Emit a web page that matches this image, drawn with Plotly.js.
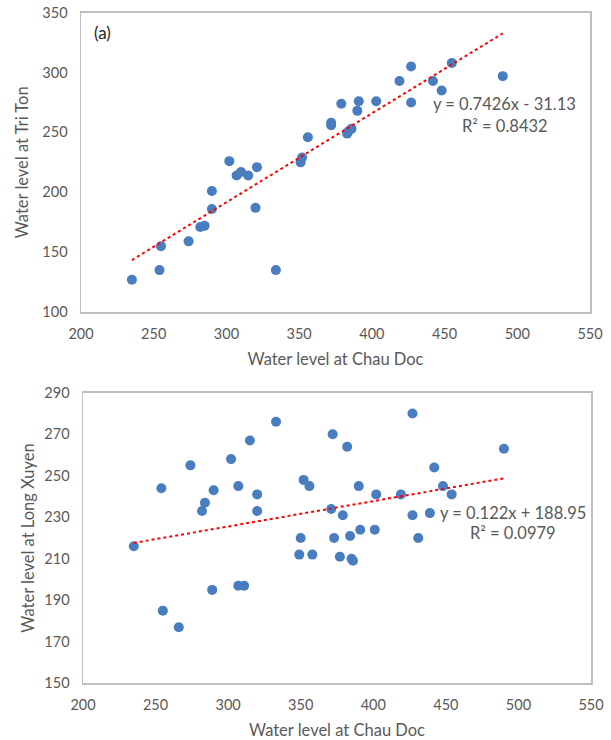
<!DOCTYPE html>
<html>
<head>
<meta charset="utf-8">
<script src="https://cdn.plot.ly/plotly-3.0.1.min.js"></script>
<style>html,body{margin:0;padding:0;background:#fff;}#chart{width:611px;height:740px;}</style>
</head>
<body>
<div id="chart"></div>
<script>
// Panel (a): Chau Doc vs Tri Ton
const topX = [235,254,255,274,282,285,290,290,302,307,310,315,321,320,334,351,352,356,372,372,379,383,386,384,391,390,403,419,427,427,442,448,455,490];
const topY = [127,135,155,159,171,172,186,201,226,214,217,214,221,187,135,225,229,246,258,256,274,249,253,251,276,268,276,293,305,275,293,285,308,297];
// Panel (b): Chau Doc vs Long Xuyen
const botX = [235,254,255,266,274,284,282,290,289,302,307,307,311,315,320,320,333,350,349,358,352,356,372,371,373,379,377,382,384,385,386,390,391,402,401,419,427,427,431,439,442,448,454,490];
const botY = [216,244,185,177,255,237,233,243,195,258,245,197,197,267,241,233,276,220,212,212,248,245,270,234,220,231,211,264,221,210,209,245,224,241,224,241,280,231,220,232,254,245,241,263];

// Trendline coefficients as printed on the chart
const topSlope = 0.7426, topIntercept = -31.13, topR2 = 0.8432;
const botSlope = 0.122, botIntercept = 188.95, botR2 = 0.0979;

const xTicks = [200,250,300,350,400,450,500,550];
const topYTicks = [100,150,200,250,300,350];
const botYTicks = [150,170,190,210,230,250,270,290];

function trend(xs, a, b) {
  const x0 = Math.min(...xs), x1 = Math.max(...xs);
  return {x: [x0, x1], y: [a * x0 + b, a * x1 + b]};
}
const tTop = trend(topX, topSlope, topIntercept);
const tBot = trend(botX, botSlope, botIntercept);

const dotColor = '#4a7dbf';
const font = 'Lato, "Open Sans", sans-serif';
const grey = '#595959';

const data = [
  {x: topX, y: topY, xaxis: 'x', yaxis: 'y', type: 'scatter', mode: 'markers',
   marker: {color: dotColor, size: 10}},
  {x: tTop.x, y: tTop.y, xaxis: 'x', yaxis: 'y', type: 'scatter', mode: 'lines',
   line: {color: '#ff0000', width: 2, dash: 'dot'}},
  {x: botX, y: botY, xaxis: 'x2', yaxis: 'y2', type: 'scatter', mode: 'markers',
   marker: {color: dotColor, size: 10}},
  {x: tBot.x, y: tBot.y, xaxis: 'x2', yaxis: 'y2', type: 'scatter', mode: 'lines',
   line: {color: '#ff0000', width: 2, dash: 'dot'}}
];

function xa(domain, anchor) {
  return {domain: domain, anchor: anchor, range: [200, 550], tickvals: xTicks,
    showgrid: false, zeroline: false, showline: true, mirror: true,
    linecolor: '#bfbfbf', linewidth: 1.5, ticks: '', ticklabelstandoff: 8,
    tickfont: {family: font, size: 14.5, color: grey},
    title: {text: 'Water level at Chau Doc', font: {family: font, size: 16.5, color: grey}, standoff: 12}};
}
function ya(domain, anchor, range, ticks, title, standoff) {
  return {domain: domain, anchor: anchor, range: range, tickvals: ticks,
    showgrid: false, zeroline: false, showline: true, mirror: true,
    linecolor: '#bfbfbf', linewidth: 1.5, ticks: '', ticklabelstandoff: 9,
    tickfont: {family: font, size: 14.5, color: grey},
    title: {text: title, font: {family: font, size: 16.5, color: grey}, standoff: standoff}};
}

const layout = {
  width: 611, height: 740,
  margin: {l: 0, r: 0, t: 0, b: 0},
  paper_bgcolor: '#fff', plot_bgcolor: '#fff',
  showlegend: false,
  xaxis: xa([81/611, 590/611], 'y'),
  yaxis: ya([1 - 312/740, 1 - 12.7/740], 'x', [100, 350], topYTicks, 'Water level at Tri Ton', 9),
  xaxis2: xa([83/611, 591/611], 'y2'),
  yaxis2: ya([1 - 683.3/740, 1 - 392.7/740], 'x2', [150, 290], botYTicks, 'Water level at Long Xuyen', 5),
  annotations: [
    {xref: 'paper', yref: 'paper', x: 102.7/611, y: 1 - 33/740, xanchor: 'center', yanchor: 'middle',
     text: '(a)', showarrow: false, font: {family: font, size: 17, color: '#262626'}},
    {xref: 'x', yref: 'y', x: 491, y: 273.5, xanchor: 'center', yanchor: 'middle', showarrow: false,
     text: 'y = ' + topSlope + 'x - ' + Math.abs(topIntercept).toFixed(2),
     font: {family: font, size: 16.5, color: grey}},
    {xref: 'x', yref: 'y', x: 491.5, y: 255.6, xanchor: 'center', yanchor: 'middle', showarrow: false,
     text: 'R² = ' + topR2, font: {family: font, size: 16.5, color: grey}},
    {xref: 'x2', yref: 'y2', x: 496, y: 232.2, xanchor: 'center', yanchor: 'middle', showarrow: false,
     text: 'y = ' + botSlope + 'x + ' + botIntercept.toFixed(2),
     font: {family: font, size: 16.5, color: grey}},
    {xref: 'x2', yref: 'y2', x: 496, y: 222.3, xanchor: 'center', yanchor: 'middle', showarrow: false,
     text: 'R² = ' + botR2, font: {family: font, size: 16.5, color: grey}}
  ]
};

Plotly.newPlot('chart', data, layout, {displayModeBar: false, staticPlot: true});
</script>
</body>
</html>
